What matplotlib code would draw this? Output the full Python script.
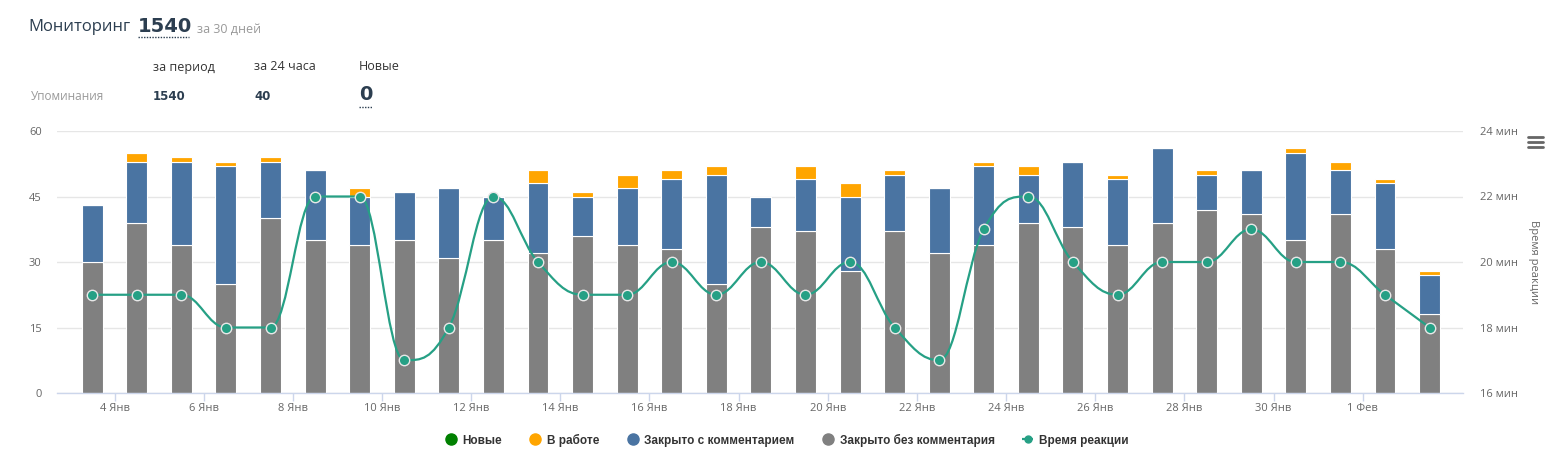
import numpy as np
import matplotlib
matplotlib.use("Agg")
import matplotlib.pyplot as plt
from matplotlib.path import Path
from matplotlib.patches import PathPatch
from matplotlib.lines import Line2D

plt.rcParams['font.family'] = ['Open Sans', 'DejaVu Sans']

# данные: 3 янв .. 2 фев
days = ["3 Янв", "4 Янв", "5 Янв", "6 Янв", "7 Янв", "8 Янв", "9 Янв", "10 Янв",
        "11 Янв", "12 Янв", "13 Янв", "14 Янв", "15 Янв", "16 Янв", "17 Янв",
        "18 Янв", "19 Янв", "20 Янв", "21 Янв", "22 Янв", "23 Янв", "24 Янв",
        "25 Янв", "26 Янв", "27 Янв", "28 Янв", "29 Янв", "30 Янв", "31 Янв",
        "1 Фев", "2 Фев"]
closed_no_comment = [30, 39, 34, 25, 40, 35, 34, 35, 31, 35, 32, 36, 34, 33, 25, 38,
                     37, 28, 37, 32, 34, 39, 38, 34, 39, 42, 41, 35, 41, 33, 18]
closed_comment = [13, 14, 19, 27, 13, 16, 11, 11, 16, 10, 16, 9, 13, 16, 25, 7,
                  12, 17, 13, 15, 18, 11, 15, 15, 17, 8, 10, 20, 10, 15, 9]
in_work = [0, 2, 1, 1, 1, 0, 2, 0, 0, 0, 3, 1, 3, 2, 2, 0,
           3, 3, 1, 0, 1, 2, 0, 1, 0, 1, 0, 1, 2, 1, 1]
new = [0] * 31
reaction = [19, 19, 19, 18, 18, 22, 22, 17, 18, 22, 20, 19, 19, 20, 19, 20,
            19, 20, 18, 17, 21, 22, 20, 19, 20, 20, 21, 20, 20, 19, 18]
tick_labels = ["4 Янв", "6 Янв", "8 Янв", "10 Янв", "12 Янв", "14 Янв", "16 Янв",
               "18 Янв", "20 Янв", "22 Янв", "24 Янв", "26 Янв", "28 Янв",
               "30 Янв", "1 Фев"]

GRAY = "#808080"
BLUE = "#4a74a2"
ORANGE = "#ffa500"
GREEN = "#008000"
TEAL = "#26a085"
DARK = "#2c3e50"


def hc_spline(xs, ys, smoothing=1.5):
    # сплайн как в Highcharts
    n = len(xs)
    left = [None] * n
    right = [None] * n
    for i in range(n):
        x, y = xs[i], ys[i]
        if 0 < i < n - 1:
            lx, ly = xs[i - 1], ys[i - 1]
            nx, ny = xs[i + 1], ys[i + 1]
            d = smoothing + 1
            lcx, lcy = (smoothing * x + lx) / d, (smoothing * y + ly) / d
            rcx, rcy = (smoothing * x + nx) / d, (smoothing * y + ny) / d
            if rcx != lcx:
                corr = ((rcy - lcy) * (rcx - x)) / (rcx - lcx) + y - rcy
                lcy += corr
                rcy += corr
            if lcy > ly and lcy > y:
                lcy = max(ly, y); rcy = 2 * y - lcy
            elif lcy < ly and lcy < y:
                lcy = min(ly, y); rcy = 2 * y - lcy
            if rcy > ny and rcy > y:
                rcy = max(ny, y); lcy = 2 * y - rcy
            elif rcy < ny and rcy < y:
                rcy = min(ny, y); lcy = 2 * y - rcy
            left[i], right[i] = (lcx, lcy), (rcx, rcy)
        else:
            left[i] = right[i] = (x, y)
    verts = [(xs[0], ys[0])]
    codes = [Path.MOVETO]
    for i in range(1, n):
        verts += [right[i - 1], left[i], (xs[i], ys[i])]
        codes += [Path.CURVE4] * 3
    return Path(verts, codes)


W, H = 1564, 467
fig = plt.figure(figsize=(W / 100, H / 100), dpi=100)
ax = fig.add_axes([57 / W, 1 - 393 / H, 1406 / W, 262 / H])

x = np.arange(len(days))
bw = 0.47
b1 = np.array(closed_no_comment)
b2 = b1 + np.array(closed_comment)
b3 = b2 + np.array(in_work)
kw = dict(width=bw, edgecolor="white", linewidth=0.8, zorder=2)
ax.bar(x, closed_no_comment, color=GRAY, **kw)
ax.bar(x, closed_comment, bottom=b1, color=BLUE, **kw)
ax.bar(x, in_work, bottom=b2, color=ORANGE, **kw)
ax.bar(x, new, bottom=b3, color=GREEN, **kw)

ax.set_xlim(-0.79, 30.75)
ax.set_ylim(0, 60)
ax.set_yticks([0, 15, 30, 45, 60])
ax.grid(axis="y", color="#e6e6e6", linewidth=1, zorder=0)
ax.set_axisbelow(True)
for s in ["top", "left", "right"]:
    ax.spines[s].set_visible(False)
ax.spines["bottom"].set_color("#ccd6eb")
ax.spines["bottom"].set_linewidth(1)
ax.set_xticks(np.arange(len(tick_labels)) * 2 + 0.5)
ax.set_xticklabels(tick_labels)
ax.tick_params(axis="x", colors="#ccd6eb", length=6, width=1, labelcolor="#666666",
               labelsize=8, pad=1.5)
ax.tick_params(axis="y", length=0, labelcolor="#666666", labelsize=8, pad=11)

ax2 = ax.twinx()
ax2.set_ylim(16, 24)
ax2.set_yticks([16, 18, 20, 22, 24])
ax2.set_yticklabels(["%d мин" % v for v in [16, 18, 20, 22, 24]])
ax2.tick_params(axis="y", length=0, labelcolor="#666666", labelsize=8, pad=12)
for s in ax2.spines.values():
    s.set_visible(False)
ax2.add_patch(PathPatch(hc_spline(list(x), reaction), facecolor="none",
                        edgecolor=TEAL, linewidth=1.6, zorder=3))
ax2.plot(x, reaction, linestyle="none", marker="o", markersize=7.5,
         markerfacecolor=TEAL, markeredgecolor="#e8e8e8", markeredgewidth=1, zorder=4)
ax2.set_xlim(-0.79, 30.75)
fig.text(1533 / W, 1 - 262 / H, "Время реакции", rotation=270, ha="center",
         va="center", fontsize=8, color="#666666")

# иконка меню
for yy in [137, 142, 147]:
    fig.add_artist(Line2D([1528 / W, 1543 / W], [1 - yy / H] * 2, color="#666666",
                          linewidth=2, solid_capstyle="round"))


def px(xp, yp):
    return xp / W, 1 - yp / H


NUM = ['DejaVu Sans']

# шапка
fig.text(*px(28, 27), "Мониторинг", fontsize=12, color=DARK, va="center")
fig.text(*px(138, 26), "1540", fontsize=14, fontweight="bold", color=DARK,
         va="center", family=NUM)
fig.text(*px(197, 29), "за 30 дней", fontsize=9, color="#999999", va="center")
fig.add_artist(Line2D([138 / W, 189 / W], [1 - 37 / H] * 2, color=DARK,
                      linewidth=1, linestyle=(0, (1, 1))))

fig.text(*px(153, 67), "за период", fontsize=9, color="#333333", va="center")
fig.text(*px(254, 67), "за 24 часа", fontsize=9, color="#333333", va="center")
fig.text(*px(359, 67), "Новые", fontsize=9, color="#333333", va="center")
fig.text(*px(31, 96), "Упоминания", fontsize=8.5, color="#999999", va="center")
fig.text(*px(153, 96), "1540", fontsize=8.5, fontweight="bold", color=DARK,
         va="center", family=NUM)
fig.text(*px(254, 96), "40", fontsize=8.5, fontweight="bold", color=DARK,
         va="center", family=NUM)
fig.text(*px(359, 95), "0", fontsize=14, fontweight="bold", color=DARK,
         va="center", family=NUM)
fig.add_artist(Line2D([359 / W, 372 / W], [1 - 107 / H] * 2, color=DARK,
                      linewidth=1, linestyle=(0, (1, 1))))

# легенда
handles = [
    Line2D([], [], linestyle="none", marker="o", markersize=8, color=GREEN),
    Line2D([], [], linestyle="none", marker="o", markersize=8, color=ORANGE),
    Line2D([], [], linestyle="none", marker="o", markersize=8, color=BLUE),
    Line2D([], [], linestyle="none", marker="o", markersize=8, color=GRAY),
    Line2D([], [], color=TEAL, linewidth=1.6, linestyle=(0, (2, 1.5)), marker="o",
           markersize=5, markevery=[1]),
]
labels = ["Новые", "В работе", "Закрыто с комментарием", "Закрыто без комментария",
          "Время реакции"]
leg = fig.legend(handles, labels, loc="center", bbox_to_anchor=px(787, 440),
                 ncol=5, frameon=False, handlelength=1.0, handletextpad=0.5,
                 columnspacing=2.3, prop={"family": "Liberation Sans", "size": 8.5,
                                          "weight": "bold"},
                 labelcolor="#333333")

fig.savefig("out.png", dpi=100)
